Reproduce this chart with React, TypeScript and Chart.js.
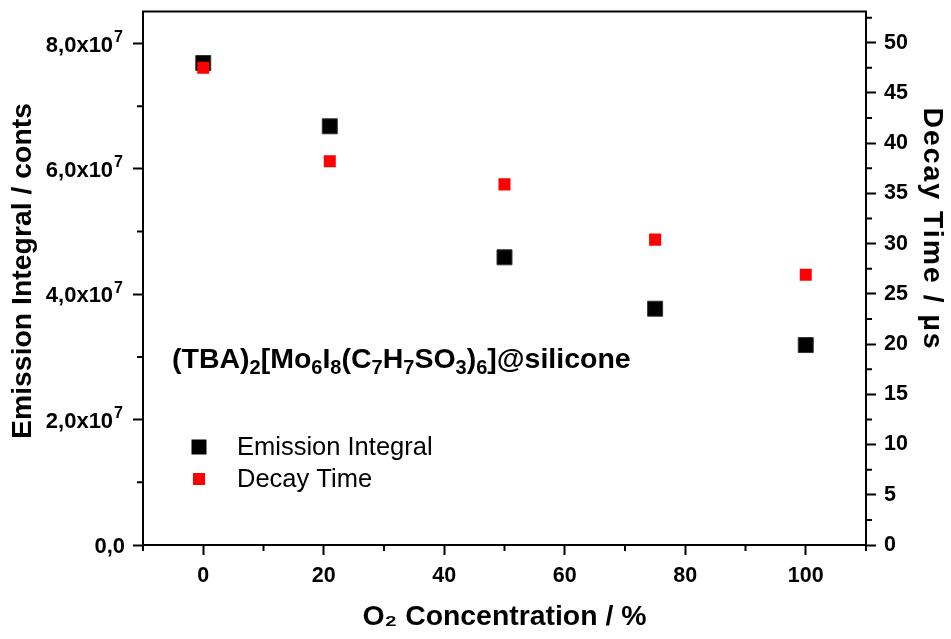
import React, { useEffect, useRef } from 'react';
import { Chart, registerables } from 'chart.js';

Chart.register(...registerables);

const oxygen = [0, 21, 50, 75, 100];
const emissionIntegral = [7.69e7, 6.68e7, 4.59e7, 3.77e7, 3.19e7];
const decayTime = [47.5, 38.2, 35.9, 30.4, 26.9];

const xTicks = [0, 20, 40, 60, 80, 100];
const xMinorTicks = [-10, 10, 30, 50, 70, 90, 110];
const leftTicks = [0, 2e7, 4e7, 6e7, 8e7];
const leftTickBase = ['0,0', '2,0x10', '4,0x10', '6,0x10', '8,0x10'];
const leftTickExp = ['', '7', '7', '7', '7'];
const leftMinorTicks = [1e7, 3e7, 5e7, 7e7];
const rightTicks = [0, 5, 10, 15, 20, 25, 30, 35, 40, 45, 50];
const rightMinorTicks = [2.5, 7.5, 12.5, 17.5, 22.5, 27.5, 32.5, 37.5, 42.5, 47.5, 52.5];

const seriesNames = ['Emission Integral', 'Decay Time'];
const leftTitle = 'Emission Integral / conts';
const rightTitle = 'Decay Time / µs';
const xTitle = 'O₂ Concentration / %';
const annotationParts: [string, boolean][] = [
  ['(TBA)', false], ['2', true], ['[Mo', false], ['6', true], ['I', false], ['8', true],
  ['(C', false], ['7', true], ['H', false], ['7', true], ['SO', false], ['3', true],
  [')', false], ['6', true], [']@silicone', false],
];

const FONT = '"Liberation Sans", Arial, Helvetica, sans-serif';

const decorPlugin = {
  id: 'decor',
  afterDraw(chart: any) {
    const { ctx, chartArea: a, scales } = chart;
    ctx.save();
    ctx.strokeStyle = '#000';
    ctx.lineWidth = 2;
    ctx.beginPath();
    ctx.moveTo(a.left - 1, a.top);
    ctx.lineTo(a.right + 1, a.top);
    ctx.stroke();

    ctx.beginPath();
    xMinorTicks.forEach((v) => {
      const px = scales.x.getPixelForValue(v);
      ctx.moveTo(px, a.bottom);
      ctx.lineTo(px, a.bottom + 6);
    });
    leftMinorTicks.forEach((v) => {
      const py = scales.y.getPixelForValue(v);
      ctx.moveTo(a.left, py);
      ctx.lineTo(a.left - 6, py);
    });
    rightMinorTicks.forEach((v) => {
      const py = scales.y1.getPixelForValue(v);
      ctx.moveTo(a.right, py);
      ctx.lineTo(a.right + 6, py);
    });
    ctx.stroke();

    ctx.fillStyle = '#000';
    ctx.textBaseline = 'alphabetic';

    // left tick labels with superscript exponent
    leftTicks.forEach((v, i) => {
      const py = scales.y.getPixelForValue(v);
      const exp = leftTickExp[i];
      ctx.textAlign = 'right';
      if (exp) {
        ctx.font = `bold 16px ${FONT}`;
        const ew = ctx.measureText(exp).width;
        ctx.fillText(exp, 123, py - 1.5);
        ctx.font = `bold 22px ${FONT}`;
        ctx.fillText(leftTickBase[i], 123 - ew - 1, py + 8);
      } else {
        ctx.font = `bold 22px ${FONT}`;
        ctx.fillText(leftTickBase[i], 125, py + 8);
      }
    });

    // annotation text with subscripts
    ctx.textAlign = 'left';
    let x = 172;
    const baseY = 368;
    annotationParts.forEach(([t, sub]) => {
      ctx.font = sub ? `bold 20px ${FONT}` : `bold 28.5px ${FONT}`;
      ctx.fillText(t, x, sub ? baseY + 6 : baseY);
      x += ctx.measureText(t).width;
    });

    // legend
    const ds = chart.data.datasets;
    ctx.fillStyle = ds[0].backgroundColor;
    ctx.fillRect(199 - 7.5, 447 - 7.5, 15, 15);
    ctx.fillStyle = ds[1].backgroundColor;
    ctx.fillRect(199 - 6, 479 - 6, 12, 12);
    ctx.fillStyle = '#000';
    ctx.font = `25.5px ${FONT}`;
    ctx.fillText(seriesNames[0], 237, 455);
    ctx.fillText(seriesNames[1], 237, 487);

    // left axis title
    ctx.save();
    ctx.translate(23, 271);
    ctx.rotate(-Math.PI / 2);
    ctx.textAlign = 'center';
    ctx.textBaseline = 'middle';
    ctx.font = `bold 28.4px ${FONT}`;
    ctx.fillText(leftTitle, 0, 0);
    ctx.restore();

    // right axis title
    ctx.save();
    ctx.translate(932, 229);
    ctx.rotate(Math.PI / 2);
    ctx.textAlign = 'center';
    ctx.textBaseline = 'middle';
    ctx.font = `bold 28.4px ${FONT}`;
    try {
      (ctx as any).letterSpacing = '2px';
    } catch (e) {}
    ctx.fillText(rightTitle, 0, 0);
    ctx.restore();

    ctx.restore();
  },
};

export default function App() {
  const ref = useRef<HTMLCanvasElement | null>(null);

  useEffect(() => {
    if (!ref.current) return;
    const tickFont = { family: FONT, size: 21.5, weight: 'bold' as const };
    const titleFont = { family: FONT, size: 28.4, weight: 'bold' as const };
    const grid = {
      display: true,
      drawOnChartArea: false,
      drawTicks: true,
      tickLength: 10,
      tickWidth: 2,
      tickColor: '#000',
      color: '#000',
    };
    const border = { display: true, color: '#000', width: 2 };

    const chart = new Chart(ref.current, {
      type: 'scatter',
      data: {
        datasets: [
          {
            label: seriesNames[0],
            data: oxygen.map((o, i) => ({ x: o, y: emissionIntegral[i] })),
            backgroundColor: '#000000',
            borderColor: '#333333',
            borderWidth: 1,
            pointStyle: 'rect',
            pointRadius: 10.6,
            yAxisID: 'y',
            order: 2,
          },
          {
            label: seriesNames[1],
            data: oxygen.map((o, i) => ({ x: o, y: decayTime[i] })),
            backgroundColor: '#ff0000',
            borderColor: '#ff0000',
            borderWidth: 0,
            pointStyle: 'rect',
            pointRadius: 8.5,
            yAxisID: 'y1',
            order: 1,
          },
        ],
      },
      options: {
        responsive: false,
        animation: false,
        layout: { padding: { top: 11, left: 0, right: 0, bottom: 0 } },
        plugins: {
          legend: { display: false },
          tooltip: { enabled: false },
        },
        scales: {
          x: {
            type: 'linear',
            position: 'bottom',
            min: -10,
            max: 110,
            grid,
            border,
            afterBuildTicks: (s: any) => {
              s.ticks = xTicks.map((v) => ({ value: v }));
            },
            afterFit: (s: any) => {
              s.height = 94;
              s.paddingLeft = 0;
              s.paddingRight = 0;
            },
            ticks: {
              autoSkip: false,
              maxRotation: 0,
              color: '#000',
              font: tickFont,
              padding: 8,
              callback: (v: any) => String(v),
            },
            title: {
              display: true,
              text: xTitle,
              color: '#000',
              font: titleFont,
              padding: { top: 0, bottom: 5 },
            },
          },
          y: {
            type: 'linear',
            position: 'left',
            min: 0,
            max: 8.51e7,
            grid,
            border,
            afterBuildTicks: (s: any) => {
              s.ticks = leftTicks.map((v) => ({ value: v }));
            },
            afterFit: (s: any) => {
              s.width = 143;
              s.paddingTop = 0;
              s.paddingBottom = 0;
            },
            ticks: {
              display: false,
            },
          },
          y1: {
            type: 'linear',
            position: 'right',
            min: 0,
            max: 53.1,
            grid,
            border,
            afterBuildTicks: (s: any) => {
              s.ticks = rightTicks.map((v) => ({ value: v }));
            },
            afterFit: (s: any) => {
              s.width = 85;
              s.paddingTop = 0;
              s.paddingBottom = 0;
            },
            ticks: {
              autoSkip: false,
              color: '#000',
              font: tickFont,
              padding: 8,
              callback: (v: any) => String(v),
            },
          },
        },
      },
      plugins: [decorPlugin],
    });
    return () => chart.destroy();
  }, []);

  return (
    <div style={{ position: 'fixed', left: 0, top: 0, width: 951, height: 639, background: '#fff' }}>
      <canvas ref={ref} width={951} height={639} style={{ width: 951, height: 639, display: 'block' }} />
    </div>
  );
}
